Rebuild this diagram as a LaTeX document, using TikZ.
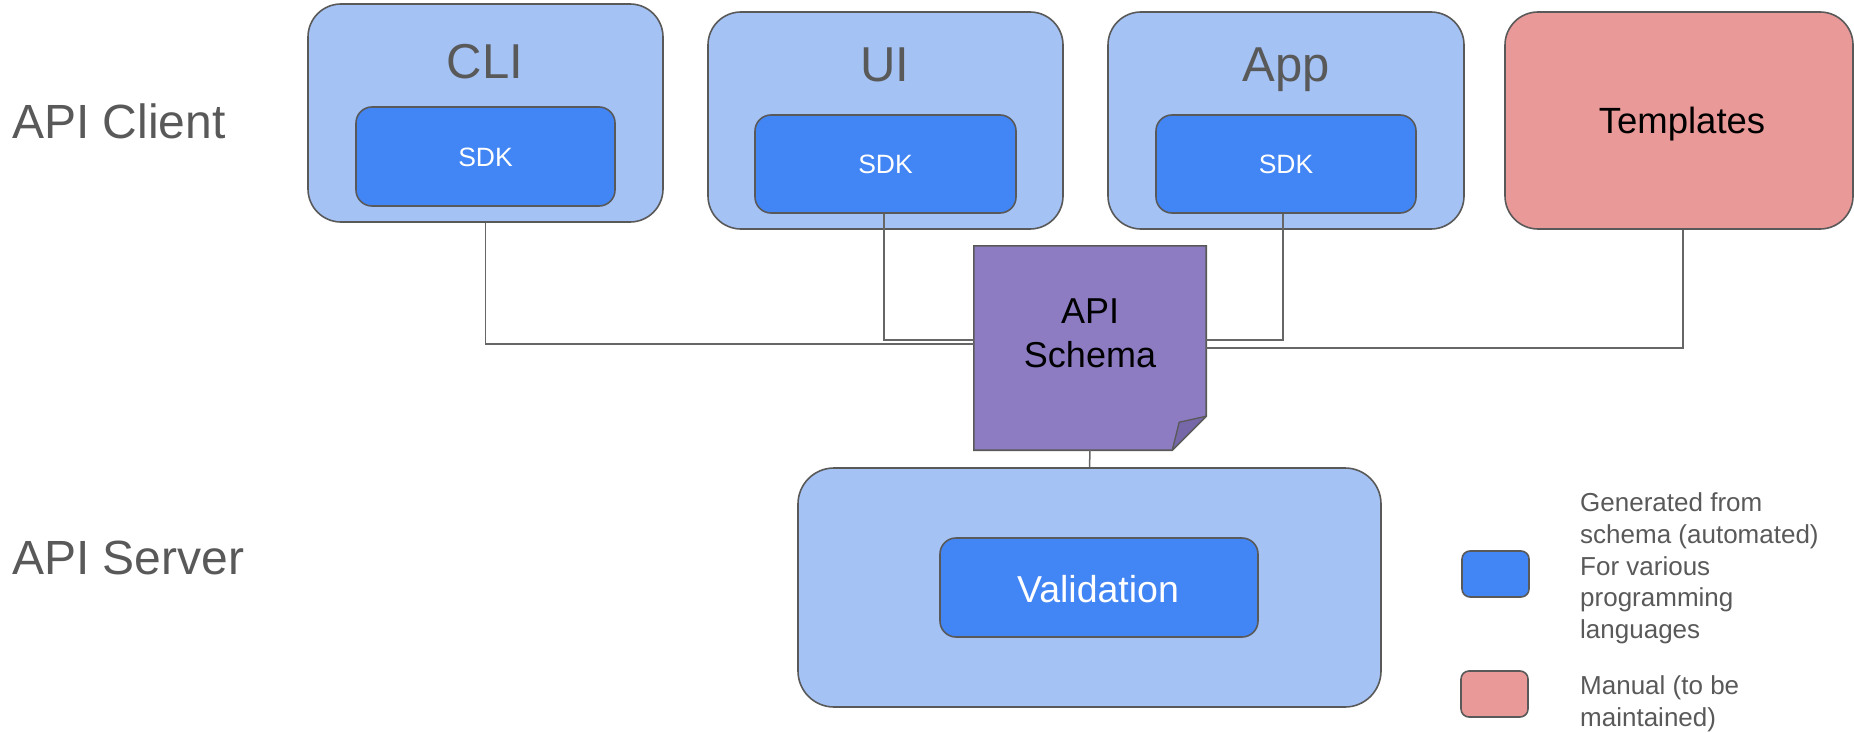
\documentclass[tikz,border=0pt]{standalone}
\usepackage{fontspec}
\setmainfont{Liberation Sans}
\definecolor{lightblue}{HTML}{A4C2F4}
\definecolor{sdkblue}{HTML}{4285F4}
\definecolor{pinkfill}{HTML}{EA9999}
\definecolor{schemafill}{HTML}{8E7CC3}
\definecolor{foldfill}{HTML}{7667A8}
\definecolor{edgegray}{HTML}{595959}
\definecolor{wiregray}{HTML}{666666}
\definecolor{textgray}{HTML}{595959}
\tikzset{
  outerbox/.style={draw=edgegray, line width=1.6pt, fill=lightblue, rounded corners=33pt, inner sep=0pt},
  sdkbox/.style={draw=edgegray, line width=1.6pt, fill=sdkblue, rounded corners=16pt, inner sep=0pt},
  tmplbox/.style={draw=edgegray, line width=1.6pt, fill=pinkfill, rounded corners=33pt, inner sep=0pt},
  keybox/.style={draw=edgegray, line width=1.6pt, rounded corners=8pt, inner sep=0pt, minimum width=67pt, minimum height=46pt},
  wire/.style={draw=wiregray, line width=1.5pt},
  title/.style={text=textgray, font=\fontsize{49}{58}\selectfont, anchor=base, inner sep=0pt},
  sidelabel/.style={text=textgray, font=\fontsize{48}{57}\selectfont, anchor=base west, inner sep=0pt},
  sdklabel/.style={text=white, font=\fontsize{26.5}{32}\selectfont, anchor=base, inner sep=0pt},
  keytext/.style={text=textgray, font=\fontsize{26}{31.7}\selectfont, align=left, anchor=base west, inner sep=0pt},
}
\begin{document}
\begin{tikzpicture}[x=1pt, y=-1pt]
\useasboundingbox (0,0) rectangle (1854,733);

% row labels
\node[sidelabel] (clientlbl) at (12,139) {API Client};
\node[sidelabel] (serverlbl) at (12,574) {API Server};

% client applications
\node[outerbox, minimum width=355pt, minimum height=218pt] (cli) at (485.5,113) {};
\node[outerbox, minimum width=355pt, minimum height=217pt] (ui) at (885.5,120.5) {};
\node[outerbox, minimum width=356pt, minimum height=217pt] (app) at (1286,120.5) {};
\node[tmplbox, minimum width=348pt, minimum height=217pt] (tmpl) at (1679,120.5) {};

\node[title] (clititle) at (485,79) {CLI};
\node[title] (uititle) at (885,82) {UI};
\node[title] (apptitle) at (1286,82) {App};
\node[anchor=base, inner sep=0pt, font=\fontsize{36.5}{43}\selectfont] (tmpltitle) at (1682,133) {Templates};

\node[sdkbox, minimum width=259pt, minimum height=99pt] (clisdk) at (485.5,156.5) {};
\node[sdkbox, minimum width=261pt, minimum height=98pt] (uisdk) at (885.5,164) {};
\node[sdkbox, minimum width=260pt, minimum height=98pt] (appsdk) at (1286,164) {};
\node[sdklabel] at (485.5,166) {SDK};
\node[sdklabel] at (885.5,173.5) {SDK};
\node[sdklabel] at (1286,173.5) {SDK};

% server
\node[outerbox, rounded corners=36pt, minimum width=583pt, minimum height=239pt] (server) at (1089.5,587.5) {};
\node[sdkbox, minimum width=318pt, minimum height=99pt] (valid) at (1099,587.5) {};
\node[anchor=base, inner sep=0pt, text=white, font=\fontsize{37.5}{45}\selectfont] at (1098,602) {Validation};

% schema document
\node[minimum width=232pt, minimum height=204pt, inner sep=0pt] (schema) at (1090,348) {};
\draw[draw=edgegray, line width=1.6pt, fill=schemafill]
  (schema.north west) -- (schema.north east) -- ([yshift=34pt]schema.south east)
  -- ([xshift=-34pt]schema.south east) -- (schema.south west) -- cycle;
\draw[draw=edgegray, line width=1.3pt, fill=foldfill, line join=round]
  ([yshift=34pt]schema.south east) -- ([xshift=-27pt,yshift=28pt]schema.south east)
  -- ([xshift=-34pt]schema.south east) -- cycle;
\node[anchor=base, inner sep=0pt, font=\fontsize{36}{44}\selectfont] at (1090,323) {API};
\node[anchor=base, inner sep=0pt, font=\fontsize{36}{44}\selectfont] at (1090,367) {Schema};

% connectors
\draw[wire] (cli.south) |- ([yshift=4pt]schema.west);
\draw[wire] ([xshift=-1.5pt]uisdk.south) |- ([yshift=8pt]schema.west);
\draw[wire] ([xshift=-3pt]appsdk.south) |- ([yshift=8pt]schema.east);
\draw[wire] ([xshift=4pt]tmpl.south) |- (schema.east);
\draw[wire] (schema.south) -- (server.north);

% key
\node[keybox, fill=sdkblue] (keyauto) at (1495.5,574) {};
\node[keybox, fill=pinkfill] (keymanual) at (1494.5,694) {};
\node[keytext] (keyautotext) at (1580,638.5) {Generated from\\schema (automated)\\For various\\programming\\languages};
\node[keytext] (keymanualtext) at (1580,726) {Manual (to be\\maintained)};
\end{tikzpicture}
\end{document}
